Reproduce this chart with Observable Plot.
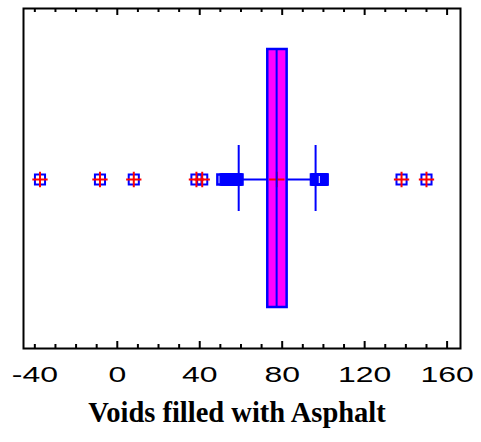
<!DOCTYPE html>
<html>
<head>
<meta charset="utf-8">
<script src="https://cdn.jsdelivr.net/npm/d3@7"></script>
<script src="https://cdn.jsdelivr.net/npm/@observablehq/plot@0.6"></script>
<style>
  body { margin: 0; background: #fff; }
  #wrap { position: relative; width: 481px; height: 442px; overflow: hidden; }
  #chart svg { display: block; }
  #title { position: absolute; left: 0; width: 474px; top: 399px; text-align: center;
           font: bold 28.5px "Liberation Serif", "Times New Roman", serif; line-height: 28px; color: #000; }
</style>
</head>
<body>
<div id="wrap"><div id="chart"></div><div id="title"></div></div>
<script>
// ---- data ----
const xTitle = "Voids filled with Asphalt";
const tickLabels = [-40, 0, 40, 80, 120, 160];
const majorTicks = [0, 40, 80, 120, 160];
const minorTicks = [-40, -30, -20, -10, 10, 20, 30, 50, 60, 70, 90, 100, 110, 130, 140, 150];
const q1 = [73.0];
const q3 = [82.4];
const median = [77.3];
const mean = [77.4];
const whiskerLow = [58.9];
const whiskerHigh = [96.2];
const farOutliers = [-37.5, -8.4, 8.0, 38.4, 41.2, 137.9, 150.0];
const nearOutliers = [51.0, 52.6, 53.2, 53.8, 54.4, 54.9, 55.4, 55.9, 56.4, 56.9, 57.3, 57.8, 58.3,
                      96.4, 96.8, 97.2, 97.6, 98.0, 98.4, 98.8, 99.2, 99.6];

// ---- layout (pixels above the bottom frame line) ----
const boxBottom = 41, boxTop = 299, midY = 169, capBottom = 137, capTop = 203;
const plotTop = 340;
const BLUE = "#0000ff", RED = "#ff0000", MAGENTA = "#ff00ff";
const SQ_R = 5.7, PLUS_R = 5.0;

const chart = Plot.plot({
  width: 481,
  height: 395,
  marginLeft: 23,
  marginRight: 21,
  marginTop: 8,
  marginBottom: 47,
  style: { fontFamily: "'Liberation Sans', Arial, sans-serif", fontSize: "22px", color: "#000", background: "#fff" },
  x: { domain: [-45.5, 166.5] },
  y: { domain: [0, plotTop], axis: null },
  marks: [
    // whiskers
    Plot.ruleY([0], { x1: whiskerLow[0], x2: q1[0], y: midY, stroke: BLUE, strokeWidth: 2 }),
    Plot.ruleY([0], { x1: q3[0], x2: whiskerHigh[0], y: midY, stroke: BLUE, strokeWidth: 2 }),
    Plot.ruleX(whiskerLow.concat(whiskerHigh), { y1: capBottom, y2: capTop, stroke: BLUE, strokeWidth: 2 }),
    // near outliers (squares)
    Plot.dot(nearOutliers, { x: d => d, y: midY, symbol: "square", r: SQ_R, fill: "none", stroke: BLUE, strokeWidth: 2.5 }),
    // box
    Plot.rect([0], { x1: q1[0], x2: q3[0], y1: boxBottom, y2: boxTop, fill: MAGENTA, stroke: BLUE, strokeWidth: 2.5 }),
    // mean
    Plot.dot(mean, { x: d => d, y: midY, symbol: "plus", r: PLUS_R, stroke: RED, strokeWidth: 2 }),
    // median
    Plot.ruleX(median, { y1: boxBottom, y2: boxTop, stroke: BLUE, strokeWidth: 2 }),
    // far outliers (square with plus)
    Plot.dot(farOutliers, { x: d => d, y: midY, symbol: "square", r: SQ_R, fill: "none", stroke: BLUE, strokeWidth: 2 }),
    Plot.dot(farOutliers, { x: d => d, y: midY, symbol: "plus", r: PLUS_R, stroke: RED, strokeWidth: 2 }),
    // inward ticks, bottom and top
    Plot.ruleX(majorTicks, { y1: 0, y2: 7, stroke: "#000", strokeWidth: 2 }),
    Plot.ruleX(minorTicks, { y1: 0, y2: 4, stroke: "#000", strokeWidth: 2 }),
    Plot.ruleX(majorTicks, { y1: plotTop - 7, y2: plotTop, stroke: "#000", strokeWidth: 2 }),
    Plot.ruleX(minorTicks, { y1: plotTop - 4, y2: plotTop, stroke: "#000", strokeWidth: 2 }),
    // tick labels
    Plot.axisX(tickLabels, { anchor: "bottom", tickSize: 0, tickPadding: 18, label: null,
      tickFormat: d => String(d), fontSize: 22.5, fontFamily: "'Liberation Sans', Arial, sans-serif", fill: "#000" }),
    Plot.frame({ stroke: "#000", strokeWidth: 2 })
  ]
});
document.getElementById("chart").appendChild(chart);
document.getElementById("title").textContent = xTitle;

// widen the tick label glyphs like the reference
d3.select(chart).selectAll('g[aria-label="x-axis tick label"] text').each(function () {
  const t = this.getAttribute("transform") || "";
  this.setAttribute("transform", t + " scale(1.42,1)");
});
</script>
</body>
</html>
